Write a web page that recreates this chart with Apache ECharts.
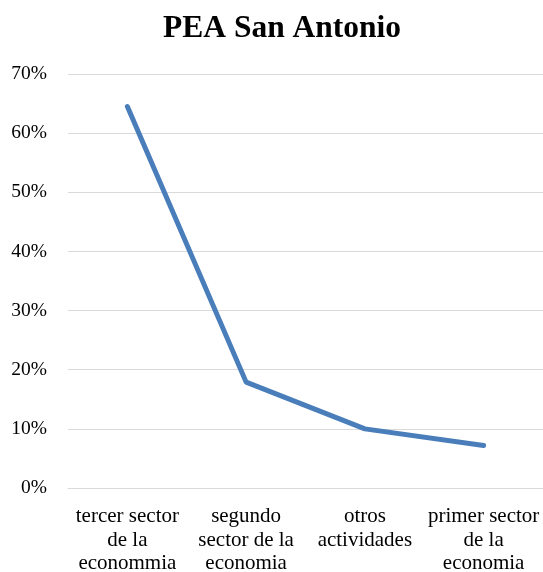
<!DOCTYPE html>
<html>
<head>
<meta charset="utf-8">
<script src="https://cdn.jsdelivr.net/npm/echarts@6/dist/echarts.min.js"></script>
<style>
  html, body { margin: 0; padding: 0; background: #fff; }
  #chart { width: 543px; height: 572px; }
</style>
</head>
<body>
<div id="chart"></div>
<script>
// Economically active population (PEA) by sector, San Antonio
const categories = [
  'tercer sector\nde la\neconommia',
  'segundo\nsector de la\neconomia',
  'otros\nactividades',
  'primer sector\nde la\neconomia'
];
const shares = [64.5, 17.9, 10.0, 7.2];
const yTicks = { min: 0, max: 70, interval: 10 };

const FONT = '"Liberation Serif", "Times New Roman", serif';

const chart = echarts.init(document.getElementById('chart'), null, { renderer: 'canvas' });
chart.setOption({
  animation: false,
  backgroundColor: '#ffffff',
  title: {
    text: 'PEA San Antonio',
    left: 158,
    top: 8,
    textStyle: { fontFamily: FONT, fontSize: 31.5, fontWeight: 'bold', color: '#000' }
  },
  grid: {
    left: 68, right: 0, top: 74, bottom: 84,
    containLabel: false,
    outerBoundsMode: 'none'
  },
  xAxis: {
    type: 'category',
    data: categories,
    boundaryGap: true,
    axisLine: { show: true, lineStyle: { color: '#d9d9d9', width: 1 } },
    axisTick: { show: false },
    axisLabel: {
      interval: 0,
      margin: 17,
      fontFamily: FONT,
      fontSize: 21,
      lineHeight: 23.5,
      color: '#000',
      align: 'center'
    }
  },
  yAxis: {
    type: 'value',
    min: yTicks.min,
    max: yTicks.max,
    interval: yTicks.interval,
    axisLine: { show: false },
    axisTick: { show: false },
    splitLine: { lineStyle: { color: '#d9d9d9', width: 1 } },
    axisLabel: {
      margin: 21,
      fontFamily: FONT,
      fontSize: 19.5,
      padding: [4, 0, 0, 0],
      color: '#000',
      formatter: v => v + '%'
    }
  },
  series: [{
    type: 'line',
    data: shares,
    symbol: 'none',
    smooth: false,
    lineStyle: { color: '#4a7ebb', width: 5, cap: 'round', join: 'round' }
  }]
});
</script>
</body>
</html>
